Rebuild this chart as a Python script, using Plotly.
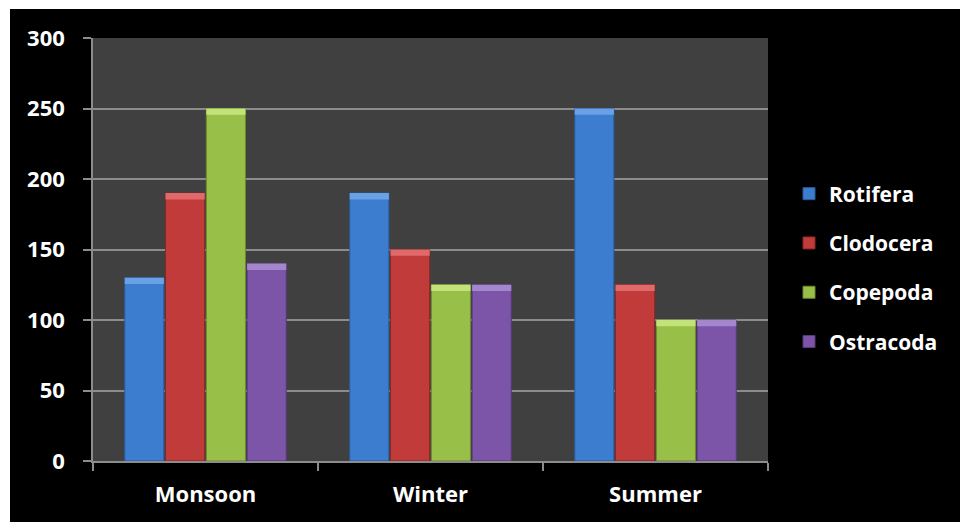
import plotly.graph_objects as go

categories = ["Monsoon", "Winter", "Summer"]
series_names = ["Rotifera", "Clodocera", "Copepoda", "Ostracoda"]
rotifera = [130, 190, 250]
clodocera = [190, 150, 125]
copepoda = [250, 125, 100]
ostracoda = [140, 125, 100]
series_values = [rotifera, clodocera, copepoda, ostracoda]
colors = ["#3d7dd0", "#c23b3b", "#98bf47", "#7c55a8"]
edge_colors = ["#2a5a9a", "#8a2626", "#6c8a2e", "#553a78"]
cap_colors = ["#6aa0e6", "#e06a6a", "#c2e27a", "#a486cc"]
y_ticks = [0, 50, 100, 150, 200, 250, 300]
CAP = 4.5  # height of the lighter bevel cap, in data units (style)

W, H = 960, 522
ML, MR, MT, MB = 93, 192, 38, 61
PW, PH = W - ML - MR, H - MT - MB

fig = go.Figure()
for i, (name, vals) in enumerate(zip(series_names, series_values)):
    fig.add_trace(go.Bar(
        x=categories, y=vals, name=name,
        marker=dict(color=colors[i], line=dict(color=edge_colors[i], width=1)),
        legendgroup=name,
    ))
for i, (name, vals) in enumerate(zip(series_names, series_values)):
    fig.add_trace(go.Bar(
        x=categories, y=[CAP] * len(vals), base=[v - CAP for v in vals],
        name=name, xaxis="x2", showlegend=False, hoverinfo="skip",
        marker=dict(color=cap_colors[i], line=dict(width=0)),
        legendgroup=name,
    ))

font_bold = dict(family="Open Sans", size=22, color="white", weight="bold")
legend_font = dict(family="Open Sans", size=21, color="white", weight="bold")

shapes = [
    dict(type="rect", xref="paper", yref="paper", layer="above",
         x0=-ML / PW, x1=(10 - ML) / PW, y0=-MB / PH, y1=1 + MT / PH,
         fillcolor="white", line=dict(width=0)),
    dict(type="rect", xref="paper", yref="paper", layer="above",
         x0=-ML / PW, x1=1 + MR / PW, y0=1 + (MT - 9) / PH, y1=1 + MT / PH,
         fillcolor="white", line=dict(width=0)),
]

fig.update_layout(
    width=W, height=H,
    margin=dict(l=ML, r=MR, t=MT, b=MB, pad=0),
    paper_bgcolor="black", plot_bgcolor="#404040",
    barmode="group", bargap=0.275, bargroupgap=0.04,
    showlegend=True,
    legend=dict(x=(789 - ML) / PW, xanchor="left", y=(H - MB - 268) / PH, yanchor="middle",
                font=legend_font, bgcolor="rgba(0,0,0,0)", tracegroupgap=19,
                traceorder="grouped"),
    shapes=shapes,
    xaxis=dict(showgrid=False, showline=True, linecolor="#8c8c8c", linewidth=1.5,
               ticks="outside", tickson="boundaries", ticklen=8, tickcolor="#8c8c8c",
               tickwidth=1.5, tickfont=font_bold, ticklabelstandoff=13),
    xaxis2=dict(overlaying="x", matches="x", visible=False, showgrid=False),
    yaxis=dict(range=[0, 300], tickvals=y_ticks, showgrid=True, gridcolor="#8c8c8c",
               gridwidth=1.5, showline=True, linecolor="#8c8c8c", linewidth=1.5,
               ticks="outside", ticklen=8, tickcolor="#8c8c8c", tickwidth=1.5,
               tickfont=font_bold, ticklabelstandoff=14, zeroline=False),
)

fig.write_html("out.html")
